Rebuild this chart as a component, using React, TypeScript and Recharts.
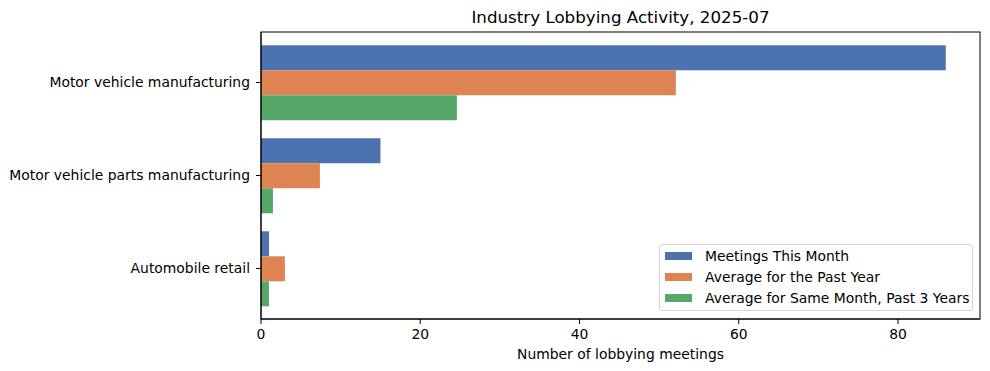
import React from "react";
import { BarChart, Bar, XAxis, YAxis, Legend } from "recharts";

// 업종별 로비 미팅 데이터 (2025-07)
const industries = [
  "Motor vehicle manufacturing",
  "Motor vehicle parts manufacturing",
  "Automobile retail",
];
const meetingsThisMonth = [86, 15, 1];
const avgPastYear = [52.1, 7.4, 3.0];
const avgSameMonth3y = [24.6, 1.5, 1.0];
const xTicks = [0, 20, 40, 60, 80];

const series = [
  { key: "thisMonth", name: "Meetings This Month", color: "#4c72b0" },
  { key: "pastYear", name: "Average for the Past Year", color: "#dd8452" },
  { key: "sameMonth", name: "Average for Same Month, Past 3 Years", color: "#55a868" },
];

const data = industries.map((name, i) => ({
  name,
  thisMonth: meetingsThisMonth[i],
  pastYear: avgPastYear[i],
  sameMonth: avgSameMonth3y[i],
}));

const FONT = "'DejaVu Sans', sans-serif";
const tickStyle = { fill: "#000", fontSize: 13.9, fontFamily: FONT };

function BoxLegend() {
  return (
    <div
      style={{
        position: "absolute",
        left: 659,
        top: 244,
        width: 314,
        height: 67,
        boxSizing: "border-box",
        border: "1px solid #d6d6d6",
        borderRadius: 3,
        background: "rgba(255,255,255,0.8)",
        fontFamily: FONT,
        fontSize: 13.9,
        color: "#000",
      }}
    >
      {series.map((s, i) => (
        <div
          key={s.key}
          style={{
            position: "absolute",
            left: 5,
            top: 1 + i * 20.8,
            height: 20,
            display: "flex",
            alignItems: "center",
            whiteSpace: "nowrap",
          }}
        >
          <span style={{ display: "inline-block", width: 27, height: 8, background: s.color }} />
          <span style={{ marginLeft: 13 }}>{s.name}</span>
        </div>
      ))}
    </div>
  );
}

export default function App() {
  return (
    <div style={{ position: "absolute", left: 0, top: 0, width: 990, height: 371, background: "#fff" }}>
      <div
        style={{
          position: "absolute",
          left: 261,
          width: 719,
          top: 7,
          textAlign: "center",
          fontFamily: FONT,
          fontSize: 16.7,
          color: "#000",
        }}
      >
        Industry Lobbying Activity, 2025-07
      </div>
      <BarChart
        width={990}
        height={371}
        data={data}
        layout="vertical"
        margin={{ top: 32, right: 10, bottom: 0, left: 0 }}
        barGap={0}
        barCategoryGap="10%"
      >
        <XAxis
          type="number"
          domain={[0, 90.3]}
          ticks={xTicks}
          allowDataOverflow
          height={52}
          tickSize={5}
          tickMargin={5}
          tick={tickStyle}
          axisLine={{ stroke: "#000", strokeWidth: 1 }}
          tickLine={{ stroke: "#000" }}
          label={{
            value: "Number of lobbying meetings",
            position: "insideBottom",
            offset: 12,
            style: { fill: "#000", fontSize: 13.9, fontFamily: FONT },
          }}
        />
        <YAxis
          type="category"
          dataKey="name"
          width={261}
          padding={{ top: 4, bottom: 4 }}
          tickSize={5}
          tickMargin={6}
          tick={tickStyle}
          axisLine={{ stroke: "#000", strokeWidth: 1 }}
          tickLine={{ stroke: "#000" }}
        />
        {series.map((s) => (
          <Bar key={s.key} dataKey={s.key} name={s.name} fill={s.color} isAnimationActive={false} />
        ))}
        <Legend content={() => null} />
      </BarChart>
      {/* 상단/우측 테두리 */}
      <svg
        width={990}
        height={371}
        style={{ position: "absolute", left: 0, top: 0, pointerEvents: "none" }}
      >
        <rect x={261} y={32} width={719} height={287} fill="none" stroke="#000" strokeWidth={1} />
      </svg>
      <BoxLegend />
    </div>
  );
}
